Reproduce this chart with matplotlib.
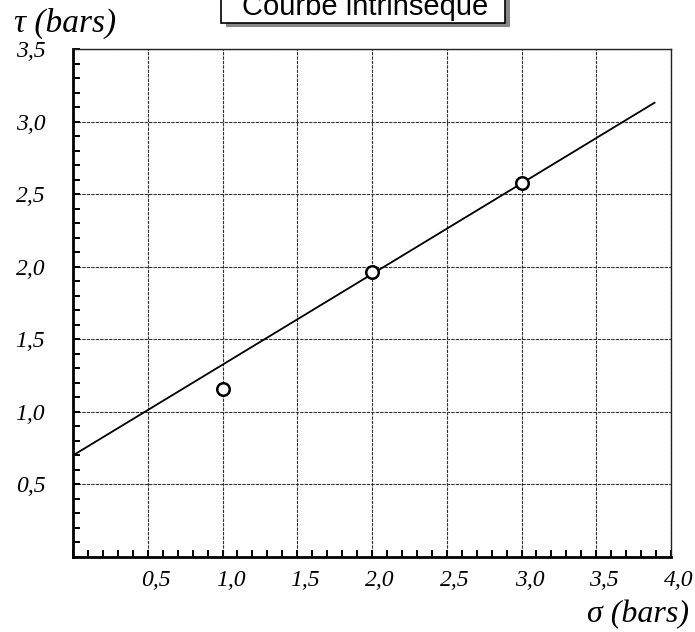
import matplotlib
matplotlib.use("Agg")
import matplotlib.pyplot as plt
from matplotlib.patches import Rectangle
from matplotlib.ticker import MultipleLocator, FixedLocator
import matplotlib.transforms as mtransforms

# ---- data ----
sigma_points = [1.0, 2.0, 3.0]
tau_points = [1.16, 1.965, 2.575]
line_sigma = [0.0, 3.89]
line_tau = [0.70, 3.13]
x_ticks = [0.5, 1.0, 1.5, 2.0, 2.5, 3.0, 3.5, 4.0]
x_tick_labels = ["0,5", "1,0", "1,5", "2,0", "2,5", "3,0", "3,5", "4,0"]
y_ticks = [0.5, 1.0, 1.5, 2.0, 2.5, 3.0, 3.5]
y_tick_labels = ["0,5", "1,0", "1,5", "2,0", "2,5", "3,0", "3,5"]
title = "Courbe intrinsèque"
xlabel = "σ (bars)"
ylabel = "τ (bars)"

W, H = 695, 632
fig = plt.figure(figsize=(W / 100, H / 100), dpi=100)
fig.patch.set_facecolor("white")

L, R, B, T = 73, 671, 557, 49
ax = fig.add_axes([L / W, 1 - B / H, (R - L) / W, (B - T) / H])
ax.set_xlim(0, 4.0)
ax.set_ylim(0, 3.5)

serif = ["Liberation Serif", "DejaVu Serif"]

# grid
ax.xaxis.set_major_locator(FixedLocator(x_ticks))
ax.yaxis.set_major_locator(FixedLocator(y_ticks))
ax.xaxis.set_minor_locator(MultipleLocator(0.1))
ax.yaxis.set_minor_locator(MultipleLocator(0.1))
ax.grid(True, which="major", color="#333333", linestyle=(0, (3, 1)), linewidth=0.8)
ax.set_axisbelow(True)

ax.set_xticklabels(x_tick_labels, fontfamily=serif, fontstyle="italic", fontsize=17)
ax.set_yticklabels(y_tick_labels, fontfamily=serif, fontstyle="italic", fontsize=17)
ax.tick_params(axis="both", which="both", direction="in", color="black")
ax.tick_params(axis="both", which="major", length=5, width=1.4)
ax.tick_params(axis="both", which="minor", length=5, width=1.4)
ax.tick_params(axis="x", which="major", pad=9)
ax.tick_params(axis="y", which="major", pad=20)

offset = mtransforms.ScaledTranslation(8 / 100, 0, fig.dpi_scale_trans)
for lab in ax.get_xticklabels():
    lab.set_transform(lab.get_transform() + offset)

for s in ["left", "bottom"]:
    ax.spines[s].set_linewidth(2.0)
    ax.spines[s].set_color("black")
for s in ["top", "right"]:
    ax.spines[s].set_linewidth(1.0)
    ax.spines[s].set_color("#222222")

# line and points
ax.plot(line_sigma, line_tau, color="black", linewidth=1.3, zorder=3)
ax.plot(sigma_points, tau_points, linestyle="none", marker="o", markersize=9,
        markerfacecolor="white", markeredgecolor="black", markeredgewidth=1.8, zorder=4)

# axis labels
fig.text(14 / W, 1 - 32 / H, ylabel, fontfamily=serif, fontstyle="italic",
         fontsize=24, ha="left", va="baseline")
fig.text(689 / W, 1 - 622 / H, xlabel, fontfamily=serif, fontstyle="italic",
         fontsize=23, ha="right", va="baseline")

# title box with shadow (partially cut at top)
shadow = Rectangle((226 / W, 1 - 27 / H), (505 - 221) / W, 40 / H,
                   transform=fig.transFigure, facecolor="#888888", edgecolor="none",
                   hatch="....", zorder=1)
box = Rectangle((221 / W, 1 - 23 / H), (505 - 221) / W, 40 / H,
                transform=fig.transFigure, facecolor="white", edgecolor="black",
                linewidth=1.2, zorder=2)
fig.patches.extend([shadow, box])
fig.text(365 / W, 1 - 15 / H, title, fontfamily=["Liberation Sans", "DejaVu Sans"],
         fontsize=21, ha="center", va="baseline", zorder=3)

fig.savefig("out.png", dpi=100, facecolor="white")
